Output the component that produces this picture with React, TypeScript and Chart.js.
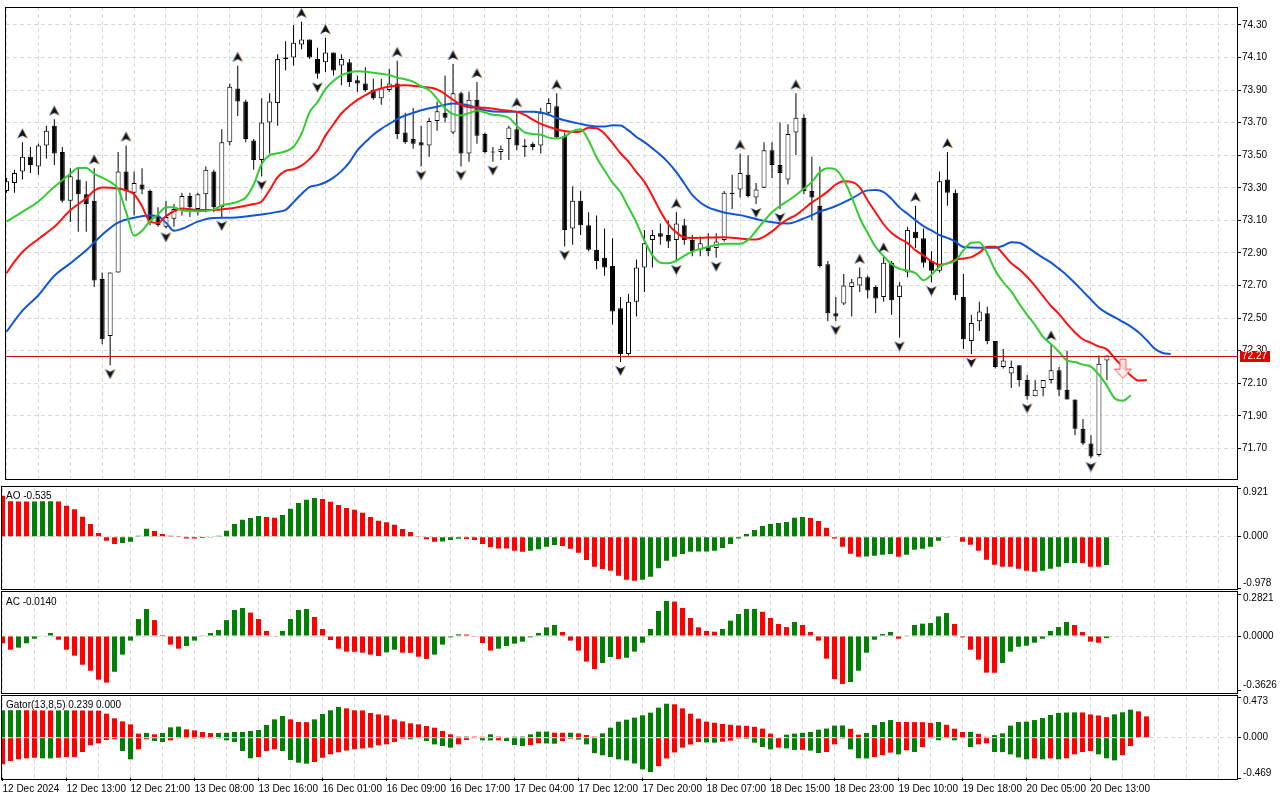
import { useEffect, useRef } from 'react';
import { Chart, registerables } from 'chart.js';

Chart.register(...registerables);

// ---------------- data ----------------
const timeLabels = [
  '12 Dec 2024', '12 Dec 13:00', '12 Dec 21:00', '13 Dec 08:00', '13 Dec 16:00', '16 Dec 01:00',
  '16 Dec 09:00', '16 Dec 17:00', '17 Dec 04:00', '17 Dec 12:00', '17 Dec 20:00', '18 Dec 07:00',
  '18 Dec 15:00', '18 Dec 23:00', '19 Dec 10:00', '19 Dec 18:00', '20 Dec 05:00', '20 Dec 13:00',
];

const open = [
  73.28, 73.33, 73.40, 73.49, 73.43, 73.56, 73.68, 73.52, 73.22, 73.35,
  73.26, 73.22, 72.74, 72.39, 72.78, 73.40, 73.27, 73.32, 73.28, 73.13,
  73.06, 73.11, 73.16, 73.25, 73.17, 73.26, 73.40, 73.18, 73.58, 73.91,
  73.83, 73.59, 73.47, 73.70, 73.82, 74.10, 74.10, 74.18, 74.21, 74.09,
  74.07, 74.13, 74.05, 74.07, 73.96, 73.94, 73.90, 73.85, 73.90, 73.94,
  73.64, 73.60, 73.58, 73.56, 73.71, 73.76, 73.64, 73.88, 73.51, 73.84,
  73.63, 73.52, 73.52, 73.60, 73.66, 73.55, 73.57, 73.56, 73.76, 73.80,
  73.62, 73.05, 73.22, 73.07, 72.92, 72.87, 72.82, 72.56, 72.28, 72.60,
  72.81, 72.98, 73.02, 73.01, 72.98, 73.07, 72.98, 72.92, 72.94, 72.93,
  72.98, 73.27, 73.29, 73.38, 73.24, 73.30, 73.53, 73.44, 73.35, 73.64,
  73.73, 73.28, 73.19, 72.83, 72.53, 72.59, 72.69, 72.70, 72.75, 72.69,
  72.63, 72.84, 72.63, 72.78, 73.03, 72.99, 72.85, 72.79, 73.35, 73.27,
  72.63, 72.36, 72.48, 72.53, 72.36, 72.20, 72.16, 72.21, 72.12, 72.02,
  72.07, 72.12, 72.18, 72.06, 72.00, 71.82, 71.73, 71.66, 72.24,
];
const high = [
  73.36, 73.41, 73.58, 73.55, 73.57, 73.68, 73.72, 73.55, 73.42, 73.42,
  73.34, 73.42, 72.78, 72.78, 73.52, 73.56, 73.40, 73.42, 73.29, 73.18,
  73.22, 73.20, 73.27, 73.27, 73.27, 73.43, 73.41, 73.66, 73.94, 74.05,
  73.84, 73.60, 73.85, 73.88, 74.12, 74.20, 74.30, 74.32, 74.21, 74.16,
  74.22, 74.13, 74.12, 74.09, 73.99, 74.04, 73.97, 73.97, 74.03, 74.08,
  73.76, 73.79, 73.68, 73.73, 73.83, 73.99, 74.06, 73.89, 73.89, 73.95,
  73.64, 73.55, 73.56, 73.68, 73.77, 73.60, 73.58, 73.79, 73.85, 73.88,
  73.64, 73.31, 73.28, 73.15, 73.13, 73.05, 72.99, 72.63, 72.65, 72.86,
  73.04, 73.04, 73.08, 73.10, 73.15, 73.11, 73.01, 73.00, 73.02, 73.02,
  73.28, 73.38, 73.51, 73.50, 73.33, 73.58, 73.58, 73.70, 73.69, 73.88,
  73.75, 73.49, 73.43, 72.85, 72.63, 72.77, 72.74, 72.81, 72.76, 72.70,
  72.88, 72.85, 72.72, 73.06, 73.19, 73.05, 72.91, 73.40, 73.52, 73.29,
  72.77, 72.52, 72.60, 72.57, 72.36, 72.31, 72.24, 72.21, 72.15, 72.12,
  72.12, 72.34, 72.20, 72.30, 72.00, 71.88, 71.78, 72.27, 72.27,
];
const low = [
  73.27, 73.27, 73.35, 73.39, 73.38, 73.48, 73.44, 73.21, 73.09, 73.03,
  73.03, 72.69, 72.34, 72.21, 72.78, 73.22, 73.13, 73.26, 73.07, 73.06,
  73.05, 73.06, 73.13, 73.12, 73.13, 73.15, 73.15, 73.12, 73.56, 73.74,
  73.58, 73.41, 73.37, 73.51, 73.68, 74.02, 74.05, 74.15, 74.09, 73.97,
  74.01, 73.99, 73.93, 73.92, 73.89, 73.89, 73.84, 73.81, 73.89, 73.60,
  73.57, 73.54, 73.43, 73.49, 73.65, 73.70, 73.63, 73.43, 73.46, 73.57,
  73.51, 73.46, 73.47, 73.47, 73.53, 73.49, 73.53, 73.51, 73.75, 73.60,
  72.94, 72.95, 73.01, 72.91, 72.80, 72.76, 72.46, 72.23, 72.27, 72.51,
  72.66, 72.81, 72.95, 72.93, 72.85, 72.95, 72.88, 72.88, 72.88, 72.87,
  72.97, 73.17, 73.24, 73.24, 73.20, 73.30, 73.36, 73.17, 73.32, 73.50,
  73.26, 73.10, 72.81, 72.48, 72.48, 72.58, 72.51, 72.66, 72.62, 72.53,
  72.60, 72.52, 72.38, 72.75, 72.93, 72.81, 72.72, 72.78, 73.19, 72.61,
  72.31, 72.28, 72.42, 72.34, 72.19, 72.19, 72.07, 72.08, 72.00, 72.02,
  72.02, 72.10, 72.02, 72.00, 71.78, 71.72, 71.64, 71.65, 72.12,
];
const close = [
  73.34, 73.39, 73.49, 73.44, 73.56, 73.65, 73.51, 73.22, 73.37, 73.26,
  73.20, 72.73, 72.37, 72.78, 73.40, 73.28, 73.33, 73.29, 73.09, 73.07,
  73.12, 73.17, 73.25, 73.18, 73.26, 73.41, 73.18, 73.58, 73.92, 73.83,
  73.60, 73.47, 73.70, 73.83, 74.09, 74.09, 74.19, 74.21, 74.10, 74.00,
  74.13, 74.02, 74.09, 73.95, 73.94, 73.90, 73.85, 73.91, 73.94, 73.63,
  73.58, 73.57, 73.56, 73.71, 73.77, 73.73, 73.88, 73.51, 73.84, 73.62,
  73.52, 73.52, 73.54, 73.67, 73.56, 73.56, 73.55, 73.76, 73.82, 73.61,
  73.04, 73.22, 73.07, 72.92, 72.85, 72.81, 72.54, 72.28, 72.60, 72.81,
  72.96, 73.01, 73.00, 72.97, 73.08, 72.98, 72.91, 72.96, 72.91, 72.97,
  73.27, 73.26, 73.39, 73.25, 73.29, 73.53, 73.44, 73.39, 73.63, 73.73,
  73.28, 73.24, 72.82, 72.53, 72.51, 72.70, 72.72, 72.75, 72.67, 72.62,
  72.84, 72.61, 72.70, 73.04, 72.99, 72.84, 72.79, 73.34, 73.27, 72.64,
  72.37, 72.47, 72.54, 72.36, 72.20, 72.24, 72.20, 72.12, 72.02, 72.06,
  72.12, 72.18, 72.06, 72.00, 71.82, 71.73, 71.65, 72.22, 72.27,
];

// Alligator lines: [bar index, price]
const jaw: [number, number][] = [
  [0, 72.416], [2, 72.546], [4, 72.64], [6, 72.76], [8, 72.836], [10, 72.916], [12, 73.012], [14, 73.086],
  [16, 73.116], [18, 73.13], [19, 73.126], [20, 73.086], [21, 73.036], [22, 73.048], [24, 73.092], [26, 73.114],
  [28, 73.116], [30, 73.124], [32, 73.136], [34, 73.152], [35, 73.164], [36, 73.212], [37, 73.262], [38, 73.304],
  [39, 73.316], [40, 73.334], [41, 73.362], [42, 73.402], [43, 73.456], [44, 73.53], [45, 73.58], [46, 73.626],
  [47, 73.662], [48, 73.692], [49, 73.722], [50, 73.744], [51, 73.76], [52, 73.776], [54, 73.798], [56, 73.818],
  [57, 73.814], [58, 73.806], [59, 73.79], [60, 73.776], [62, 73.766], [66, 73.766], [67, 73.762], [68, 73.748],
  [69, 73.728], [70, 73.714], [71, 73.702], [72, 73.692], [73, 73.682], [74, 73.676], [75, 73.676], [76, 73.684],
  [77, 73.682], [78, 73.652], [79, 73.612], [80, 73.58], [81, 73.542], [82, 73.502], [83, 73.454], [84, 73.396],
  [85, 73.326], [86, 73.256], [87, 73.21], [88, 73.18], [89, 73.162], [90, 73.148], [92, 73.132], [94, 73.108],
  [96, 73.088], [98, 73.08], [99, 73.092], [100, 73.112], [101, 73.132], [102, 73.154], [103, 73.17], [104, 73.188],
  [106, 73.234], [108, 73.284], [109, 73.286], [110, 73.274], [111, 73.232], [112, 73.178], [113, 73.14], [114, 73.10],
  [115, 73.064], [116, 73.038], [117, 73.01], [118, 72.992], [119, 72.97], [120, 72.936], [122, 72.932], [124, 72.932],
  [125, 72.944], [126, 72.966], [127, 72.962], [128, 72.936], [129, 72.902], [130, 72.87], [131, 72.84], [132, 72.802],
  [133, 72.762], [134, 72.714], [135, 72.664], [136, 72.614], [137, 72.564], [138, 72.53], [139, 72.504], [140, 72.476],
  [141, 72.448], [142, 72.412], [143, 72.364], [144, 72.312], [145, 72.286], [146, 72.28],
];
const teeth: [number, number][] = [
  [0, 72.776], [1, 72.846], [2, 72.906], [4, 72.986], [6, 73.06], [8, 73.162], [10, 73.236], [11, 73.282],
  [12, 73.302], [14, 73.296], [15, 73.284], [16, 73.26], [17, 73.186], [18, 73.092], [19, 73.084], [20, 73.126],
  [21, 73.156], [22, 73.172], [24, 73.164], [26, 73.164], [28, 73.172], [30, 73.19], [31, 73.20], [32, 73.216],
  [33, 73.286], [34, 73.366], [35, 73.404], [36, 73.414], [37, 73.436], [38, 73.476], [39, 73.53], [40, 73.62],
  [41, 73.69], [42, 73.756], [43, 73.802], [44, 73.84], [45, 73.868], [46, 73.894], [47, 73.91], [48, 73.922],
  [50, 73.93], [52, 73.92], [54, 73.904], [56, 73.84], [57, 73.81], [58, 73.794], [60, 73.792], [62, 73.778],
  [64, 73.766], [65, 73.748], [66, 73.718], [67, 73.692], [68, 73.674], [69, 73.658], [70, 73.648], [71, 73.642],
  [72, 73.646], [73, 73.668], [74, 73.666], [75, 73.632], [76, 73.574], [77, 73.512], [78, 73.46], [79, 73.396],
  [80, 73.336], [81, 73.25], [82, 73.156], [83, 73.076], [84, 73.026], [85, 72.996], [86, 72.992], [90, 72.996],
  [92, 72.988], [94, 72.982], [95, 73.0], [96, 73.032], [97, 73.074], [98, 73.108], [99, 73.132], [100, 73.17],
  [101, 73.21], [102, 73.242], [103, 73.278], [104, 73.32], [105, 73.34], [106, 73.336], [107, 73.302], [108, 73.222],
  [109, 73.148], [110, 73.076], [111, 73.022], [112, 72.988], [113, 72.96], [114, 72.916], [115, 72.884], [116, 72.848],
  [117, 72.828], [118, 72.836], [119, 72.858], [120, 72.866], [121, 72.874], [122, 72.902], [123, 72.938], [124, 72.938],
  [125, 72.892], [126, 72.836], [127, 72.80], [128, 72.752], [129, 72.696], [130, 72.634], [131, 72.574], [132, 72.524],
  [133, 72.464], [134, 72.412], [135, 72.37], [136, 72.348], [137, 72.326], [138, 72.308], [139, 72.252], [140, 72.20],
  [141, 72.148], [142, 72.116], [143, 72.12],
];
const lips: [number, number][] = [
  [0, 73.092], [2, 73.152], [4, 73.216], [6, 73.306], [7, 73.346], [8, 73.386], [9, 73.422], [10, 73.422],
  [11, 73.386], [12, 73.362], [13, 73.336], [14, 73.292], [15, 73.152], [16, 73.006], [17, 73.036], [18, 73.096],
  [19, 73.136], [20, 73.18], [21, 73.18], [22, 73.16], [24, 73.156], [26, 73.166], [27, 73.192], [28, 73.202],
  [29, 73.214], [30, 73.24], [31, 73.32], [32, 73.446], [33, 73.50], [34, 73.512], [35, 73.524], [36, 73.552],
  [37, 73.632], [38, 73.762], [39, 73.826], [40, 73.906], [41, 73.956], [42, 73.992], [43, 74.008], [44, 74.016],
  [46, 74.006], [48, 73.992], [49, 73.976], [50, 73.966], [51, 73.952], [52, 73.922], [53, 73.90], [54, 73.846],
  [55, 73.788], [56, 73.752], [57, 73.744], [58, 73.758], [59, 73.774], [60, 73.762], [61, 73.748], [62, 73.744],
  [63, 73.73], [64, 73.68], [65, 73.64], [66, 73.63], [67, 73.626], [68, 73.608], [69, 73.602], [70, 73.614],
  [71, 73.648], [72, 73.66], [73, 73.59], [74, 73.486], [75, 73.406], [76, 73.332], [77, 73.272], [78, 73.18],
  [79, 73.086], [80, 72.976], [81, 72.886], [82, 72.84], [83, 72.836], [84, 72.852], [85, 72.882], [86, 72.908],
  [87, 72.924], [88, 72.938], [89, 72.948], [90, 72.956], [92, 72.956], [93, 72.98], [94, 73.036], [95, 73.096],
  [96, 73.15], [97, 73.188], [98, 73.22], [99, 73.256], [100, 73.294], [101, 73.336], [102, 73.396], [103, 73.42],
  [104, 73.412], [105, 73.348], [106, 73.242], [107, 73.116], [108, 73.022], [109, 72.936], [110, 72.88], [111, 72.83],
  [112, 72.802], [113, 72.792], [114, 72.776], [115, 72.732], [116, 72.766], [117, 72.816], [118, 72.836], [119, 72.852],
  [120, 72.916], [121, 72.962], [122, 72.966], [123, 72.896], [124, 72.792], [125, 72.72], [126, 72.664], [127, 72.588],
  [128, 72.52], [129, 72.456], [130, 72.384], [131, 72.34], [132, 72.292], [133, 72.24], [134, 72.23], [135, 72.214],
  [136, 72.202], [137, 72.152], [138, 72.084], [139, 72.006], [140, 71.992], [141, 72.026],
];

const fractalUp = [2, 6, 11, 15, 29, 37, 40, 49, 56, 59, 64, 69, 84, 92, 99, 107, 110, 114, 118, 131];
const fractalDown = [13, 20, 27, 32, 39, 52, 57, 61, 70, 77, 84, 89, 94, 97, 104, 112, 116, 121, 128, 136];
const sellSignal: [number, number] = [140, 72.19];

const priceTicks = [71.7, 71.9, 72.1, 72.3, 72.5, 72.7, 72.9, 73.1, 73.3, 73.5, 73.7, 73.9, 74.1, 74.3];

const aoValues = [
  0.775, 0.670, 0.668, 0.666, 0.667, 0.669, 0.671, 0.668, 0.586, 0.517,
  0.378, 0.239, 0.069, -0.076, -0.139, -0.120, -0.095, 0.019, 0.151, 0.107,
  0.050, 0.019, 0.002, -0.032, -0.034, -0.025, -0.013, 0.019, 0.113, 0.239,
  0.321, 0.353, 0.391, 0.372, 0.359, 0.410, 0.529, 0.636, 0.699, 0.731,
  0.712, 0.662, 0.599, 0.542, 0.510, 0.454, 0.372, 0.303, 0.271, 0.227,
  0.145, 0.088, 0.013, -0.050, -0.095, -0.093, -0.063, -0.038, -0.044, -0.063,
  -0.139, -0.202, -0.221, -0.223, -0.265, -0.284, -0.265, -0.239, -0.189, -0.158,
  -0.176, -0.227, -0.302, -0.441, -0.567, -0.611, -0.643, -0.737, -0.813, -0.832,
  -0.813, -0.756, -0.599, -0.454, -0.378, -0.328, -0.284, -0.282, -0.280, -0.265,
  -0.214, -0.139, -0.032, 0.050, 0.126, 0.202, 0.239, 0.258, 0.277, 0.359,
  0.372, 0.353, 0.296, 0.170, -0.032, -0.189, -0.321, -0.378, -0.376, -0.359,
  -0.340, -0.328, -0.378, -0.340, -0.246, -0.227, -0.189, -0.076, -0.005, -0.012,
  -0.095, -0.151, -0.265, -0.435, -0.529, -0.567, -0.570, -0.605, -0.643, -0.662,
  -0.643, -0.605, -0.567, -0.498, -0.496, -0.498, -0.567, -0.570, -0.535,
];
const acValues = [
  -0.049, -0.092, -0.078, -0.049, -0.018, 0.004, 0.020, -0.025, -0.092, -0.132,
  -0.193, -0.233, -0.293, -0.313, -0.240, -0.125, -0.031, 0.114, 0.181, 0.107,
  0.007, -0.058, -0.085, -0.067, -0.031, 0.002, 0.020, 0.040, 0.107, 0.175,
  0.188, 0.157, 0.114, 0.034, -0.002, 0.034, 0.114, 0.175, 0.181, 0.128,
  0.047, -0.027, -0.085, -0.105, -0.106, -0.112, -0.125, -0.134, -0.110, -0.092,
  -0.112, -0.113, -0.139, -0.154, -0.125, -0.058, -0.009, 0.011, 0.010, -0.002,
  -0.047, -0.098, -0.085, -0.067, -0.051, -0.038, -0.009, 0.020, 0.058, 0.074,
  0.027, -0.031, -0.098, -0.172, -0.222, -0.181, -0.141, -0.154, -0.146, -0.105,
  -0.045, 0.047, 0.168, 0.235, 0.231, 0.188, 0.121, 0.058, 0.034, 0.029,
  0.047, 0.103, 0.148, 0.181, 0.182, 0.163, 0.121, 0.081, 0.060, 0.094,
  0.074, 0.027, -0.031, -0.152, -0.289, -0.322, -0.309, -0.233, -0.112, -0.025,
  0.013, 0.027, -0.018, 0.002, 0.074, 0.083, 0.087, 0.132, 0.154, 0.081,
  -0.009, -0.092, -0.159, -0.246, -0.247, -0.181, -0.105, -0.072, -0.065, -0.045,
  -0.018, 0.034, 0.060, 0.094, 0.074, 0.027, -0.038, -0.045, -0.014,
];
const gatorUpper = [
  0.318, 0.319, 0.320, 0.319, 0.318, 0.317, 0.316, 0.317, 0.318, 0.317,
  0.316, 0.315, 0.314, 0.279, 0.225, 0.190, 0.155, 0.047, 0.054, 0.039,
  0.054, 0.120, 0.128, 0.097, 0.085, 0.066, 0.054, 0.055, 0.056, 0.066,
  0.067, 0.078, 0.089, 0.147, 0.213, 0.252, 0.213, 0.182, 0.181, 0.213,
  0.275, 0.318, 0.357, 0.341, 0.318, 0.317, 0.287, 0.271, 0.259, 0.213,
  0.190, 0.167, 0.155, 0.136, 0.116, 0.078, 0.039, 0.012, 0.013, 0.012,
  0.011, 0.039, 0.012, 0.005, 0.012, 0.013, 0.039, 0.070, 0.071, 0.058,
  0.057, 0.058, 0.050, 0.031, 0.012, 0.050, 0.116, 0.186, 0.209, 0.233,
  0.260, 0.291, 0.349, 0.395, 0.388, 0.341, 0.279, 0.221, 0.186, 0.174,
  0.160, 0.150, 0.142, 0.138, 0.126, 0.105, 0.047, 0.006, 0.035, 0.047,
  0.056, 0.066, 0.093, 0.106, 0.140, 0.142, 0.103, 0.035, 0.054, 0.147,
  0.182, 0.205, 0.183, 0.182, 0.181, 0.180, 0.172, 0.182, 0.150, 0.104,
  0.066, 0.068, 0.045, 0.010, 0.030, 0.050, 0.140, 0.182, 0.186, 0.205,
  0.229, 0.264, 0.287, 0.292, 0.294, 0.293, 0.270, 0.258, 0.239, 0.271,
  0.295, 0.326, 0.306, 0.248,
];
const gatorLower = [
  -0.310, -0.271, -0.252, -0.240, -0.233, -0.240, -0.241, -0.233, -0.225, -0.224,
  -0.167, -0.089, -0.066, -0.027, -0.019, -0.155, -0.252, -0.136, -0.019, -0.039,
  -0.050, -0.031, -0.008, -0.009, -0.010, -0.009, -0.008, -0.009, -0.031, -0.050,
  -0.155, -0.240, -0.225, -0.155, -0.136, -0.155, -0.260, -0.291, -0.302, -0.283,
  -0.233, -0.194, -0.170, -0.150, -0.135, -0.125, -0.116, -0.089, -0.078, -0.050,
  -0.012, -0.019, -0.008, -0.039, -0.078, -0.097, -0.116, -0.078, -0.027, -0.008,
  -0.031, -0.032, -0.031, -0.039, -0.085, -0.097, -0.085, -0.066, -0.067, -0.070,
  -0.040, -0.012, -0.023, -0.078, -0.180, -0.205, -0.225, -0.252, -0.265, -0.300,
  -0.368, -0.400, -0.332, -0.242, -0.172, -0.116, -0.080, -0.050, -0.055, -0.058,
  -0.047, -0.035, -0.010, -0.012, -0.058, -0.109, -0.136, -0.116, -0.124, -0.143,
  -0.142, -0.150, -0.178, -0.167, -0.078, -0.010, -0.136, -0.240, -0.242, -0.225,
  -0.202, -0.174, -0.194, -0.147, -0.167, -0.109, -0.008, -0.030, -0.003, -0.031,
  -0.003, -0.109, -0.078, -0.066, -0.167, -0.168, -0.194, -0.230, -0.252, -0.240,
  -0.252, -0.241, -0.252, -0.240, -0.194, -0.167, -0.155, -0.194, -0.240, -0.264,
  -0.202, -0.097,
];
const aoTicks = [-0.978, 0, 0.921];
const acTicks = [-0.3626, 0, 0.2821];
const gatorTicks = [-0.469, 0, 0.473];

// ---------------- styling ----------------
const GREEN = '#008000';
const RED = '#ff0000';
const GRID = '#d9d9d9';
const FONT = { family: 'Liberation Sans', size: 10 };
const CSS_FONT = '10px "Liberation Sans"';

// bar k sits at 2.5 + 8k px, chart area from x=2 to x=1237
const X_MIN = -0.0625;
const X_MAX = X_MIN + 1235 / 8;
const gridSteps = Array.from({ length: 39 }, (_, i) => i * 4);

const hasTimeLabel = (v: number) => v % 8 === 0 && v / 8 < timeLabels.length;

function trendColors(vals: number[], first: string, magnitude = false) {
  let cur = first;
  return vals.map((v, i) => {
    if (i > 0) {
      const a = magnitude ? Math.abs(v) : v;
      const b = magnitude ? Math.abs(vals[i - 1]) : vals[i - 1];
      if (a > b) cur = GREEN;
      else if (a < b) cur = RED;
    }
    return cur;
  });
}

function xScale(withLabels: boolean) {
  return {
    type: 'linear',
    min: X_MIN,
    max: X_MAX,
    offset: false,
    afterBuildTicks: (axis: any) => { axis.ticks = gridSteps.map((v) => ({ value: v })); },
    afterFit: (axis: any) => { axis.height = withLabels ? 22 : 0; },
    grid: {
      color: GRID,
      offset: false,
      drawTicks: withLabels,
      tickLength: 3,
      tickColor: (c: any) => (c.tick && hasTimeLabel(c.tick.value) ? '#000' : 'rgba(0,0,0,0)'),
    },
    border: { display: false, dash: [4, 3] },
    ticks: {
      display: withLabels,
      autoSkip: false,
      maxRotation: 0,
      minRotation: 0,
      align: 'start',
      padding: 2,
      color: '#000',
      font: FONT,
      callback: (v: number) => (hasTimeLabel(v) ? timeLabels[v / 8] : ''),
    },
  };
}

function decor(d: any) {
  return {
    id: 'decor',
    afterDraw(chart: any) {
      const { ctx, chartArea: a } = chart;
      const y = chart.scales.y;
      ctx.save();
      if (d.price) {
        const py = Math.round(y.getPixelForValue(d.price.value)) + 0.5;
        ctx.strokeStyle = '#c01010';
        ctx.lineWidth = 1;
        ctx.beginPath();
        ctx.moveTo(a.left, py);
        ctx.lineTo(a.right, py);
        ctx.stroke();
      }
      const l = Math.round(a.left) - 0.5;
      const r = Math.round(a.right) + 0.5;
      const t = Math.round(a.top - d.frame[0]) - 0.5;
      const b = Math.round(a.bottom + d.frame[1]) + 0.5;
      ctx.strokeStyle = '#000';
      ctx.lineWidth = 1;
      ctx.strokeRect(l, t, r - l, b - t);
      ctx.font = CSS_FONT;
      ctx.textBaseline = 'middle';
      ctx.textAlign = 'left';
      ctx.fillStyle = '#000';
      if (d.title) ctx.fillText(d.title, a.left + 4, a.top + 8);
      if (d.axis) {
        d.axis.forEach((tk: any) => {
          let ty = y.getPixelForValue(tk.value);
          if (tk.value === y.max) ty = a.top + 4;
          else if (tk.value === y.min) ty = a.bottom - 5;
          ctx.fillText(tk.text, a.right + 6, ty);
        });
      }
      if (d.price) {
        const py = Math.round(y.getPixelForValue(d.price.value));
        ctx.fillStyle = '#e00000';
        ctx.fillRect(a.right + 3, py - 5, 30, 11);
        ctx.fillStyle = '#fff';
        ctx.fillText(d.price.text, a.right + 5, py + 0.5);
      }
      ctx.restore();
    },
  };
}

const common = {
  animation: false,
  responsive: false,
  devicePixelRatio: 1,
  events: [],
  plugins: { legend: { display: false }, tooltip: { enabled: false } },
};

function makeFractal(up: boolean) {
  const c = document.createElement('canvas');
  c.width = 13;
  c.height = 36;
  const g = c.getContext('2d') as CanvasRenderingContext2D;
  g.translate(6.5, up ? 9.5 : 26.5);
  if (!up) g.scale(1, -1);
  g.beginPath();
  g.moveTo(0, -5);
  g.lineTo(5, 4.5);
  g.lineTo(0, 2);
  g.lineTo(-5, 4.5);
  g.closePath();
  g.fillStyle = '#111';
  g.fill();
  g.lineWidth = 1;
  g.strokeStyle = 'rgba(70,120,210,0.75)';
  g.beginPath(); g.moveTo(0, -5); g.lineTo(-5, 4.5); g.stroke();
  g.strokeStyle = 'rgba(220,140,50,0.6)';
  g.beginPath(); g.moveTo(0, -5); g.lineTo(5, 4.5); g.stroke();
  return c;
}

function makeSellArrow() {
  const c = document.createElement('canvas');
  c.width = 20;
  c.height = 22;
  const g = c.getContext('2d') as CanvasRenderingContext2D;
  g.beginPath();
  g.moveTo(7, 1.5); g.lineTo(13, 1.5); g.lineTo(13, 11.5); g.lineTo(18.5, 11.5);
  g.lineTo(10, 20.5); g.lineTo(1.5, 11.5); g.lineTo(7, 11.5);
  g.closePath();
  g.fillStyle = 'rgba(255,235,235,0.85)';
  g.fill();
  g.strokeStyle = '#ff4d4d';
  g.lineWidth = 1;
  g.stroke();
  return c;
}

function lineDs(pts: [number, number][], color: string) {
  return {
    type: 'line',
    data: pts.map(([x, y]) => ({ x, y })),
    borderColor: color,
    borderWidth: 2,
    pointRadius: 0,
    cubicInterpolationMode: 'monotone',
  };
}

function mainConfig() {
  const idx = close.map((_, i) => i);
  const body = (i: number) => {
    let lo = Math.min(open[i], close[i]);
    let hi = Math.max(open[i], close[i]);
    if (hi - lo < 0.006) { const m = (hi + lo) / 2; lo = m - 0.003; hi = m + 0.003; }
    return [lo, hi];
  };
  return {
    type: 'bar',
    data: {
      datasets: [
        { type: 'line', data: fractalUp.map((i) => ({ x: i, y: high[i] })), showLine: false, pointStyle: makeFractal(true), pointRadius: 5 },
        { type: 'line', data: fractalDown.map((i) => ({ x: i, y: low[i] })), showLine: false, pointStyle: makeFractal(false), pointRadius: 5 },
        { type: 'line', data: [{ x: sellSignal[0], y: sellSignal[1] }], showLine: false, pointStyle: makeSellArrow(), pointRadius: 5 },
        lineDs(lips, '#33cc33'),
        lineDs(teeth, '#ff1010'),
        lineDs(jaw, '#1155d6'),
        {
          data: idx.map((i) => ({ x: i, y: body(i) })),
          backgroundColor: idx.map((i) => (close[i] >= open[i] ? '#ffffff' : '#000000')),
          borderColor: '#000',
          borderWidth: 1,
          borderSkipped: false,
          barThickness: 5,
          grouped: false,
          inflateAmount: 0,
        },
        {
          data: idx.map((i) => ({ x: i, y: [low[i], high[i]] })),
          backgroundColor: '#000',
          borderWidth: 0,
          barThickness: 1,
          grouped: false,
          inflateAmount: 0,
        },
      ],
    },
    plugins: [decor({ frame: [-1, -1], price: { value: close[close.length - 1], text: close[close.length - 1].toFixed(2) } })],
    options: {
      ...common,
      layout: { padding: { left: 2, right: 0, top: 1, bottom: 2 } },
      scales: {
        x: xScale(false),
        y: {
          position: 'right',
          min: 74.30 - (485 - 19.3) / 166.67,
          max: 74.30 + (19.3 - 1) / 166.67,
          afterBuildTicks: (axis: any) => { axis.ticks = priceTicks.map((v) => ({ value: v })); },
          afterFit: (axis: any) => { axis.width = 43; },
          grid: { color: GRID, drawTicks: true, tickLength: 4, tickColor: '#000' },
          border: { display: false, dash: [4, 3] },
          ticks: { color: '#000', font: FONT, padding: 1, callback: (v: number) => Number(v).toFixed(2) },
        },
      },
    },
  };
}

function histDs(values: number[], first: string, magnitude = false) {
  return {
    data: values.map((v, i) => ({ x: i, y: v })),
    backgroundColor: trendColors(values, first, magnitude),
    borderWidth: 0,
    barThickness: 5,
    grouped: false,
    inflateAmount: 0,
  };
}

function panelConfig(p: any) {
  return {
    type: 'bar',
    data: { datasets: p.datasets },
    plugins: [decor({ frame: p.frame, title: p.title, axis: p.ticks.map((v: number) => ({ value: v, text: v.toFixed(p.decimals) })) })],
    options: {
      ...common,
      layout: { padding: { left: 2, right: 0, top: p.padTop, bottom: p.padBottom } },
      scales: {
        x: xScale(p.withTime),
        y: {
          position: 'right',
          min: p.ticks[0],
          max: p.ticks[2],
          afterBuildTicks: (axis: any) => { axis.ticks = p.ticks.map((v: number) => ({ value: v })); },
          afterFit: (axis: any) => { axis.width = 43; },
          grid: {
            color: (c: any) => (c.tick && c.tick.value === 0 ? GRID : 'rgba(0,0,0,0)'),
            drawTicks: true,
            tickLength: 4,
            tickColor: '#000',
          },
          border: { display: false, dash: [4, 3] },
          ticks: { display: false },
        },
      },
    },
  };
}

export default function App() {
  const mainRef = useRef<HTMLCanvasElement>(null);
  const aoRef = useRef<HTMLCanvasElement>(null);
  const acRef = useRef<HTMLCanvasElement>(null);
  const gatorRef = useRef<HTMLCanvasElement>(null);

  useEffect(() => {
    const charts = [
      new Chart(mainRef.current as any, mainConfig() as any),
      new Chart(aoRef.current as any, panelConfig({
        datasets: [histDs(aoValues, RED)],
        ticks: aoTicks, decimals: 3, title: 'AO -0.535',
        frame: [1, 1], padTop: 2, padBottom: 2.6, withTime: false,
      }) as any),
      new Chart(acRef.current as any, panelConfig({
        datasets: [histDs(acValues, RED)],
        ticks: acTicks, decimals: 4, title: 'AC -0.0140',
        frame: [2, 3], padTop: 4, padBottom: 4, withTime: false,
      }) as any),
      new Chart(gatorRef.current as any, panelConfig({
        datasets: [histDs(gatorUpper, GREEN), histDs(gatorLower, RED, true)],
        ticks: gatorTicks, decimals: 3, title: 'Gator(13,8,5) 0.239 0.000',
        frame: [1, 1], padTop: 3, padBottom: 0, withTime: true,
      }) as any),
    ];
    return () => charts.forEach((c) => c.destroy());
  }, []);

  const abs = (top: number) => ({ position: 'absolute' as const, left: 0, top, display: 'block' });
  return (
    <div style={{ position: 'fixed', left: 0, top: 0, width: 1280, height: 800, background: '#fff' }}>
      <canvas ref={mainRef} width={1280} height={487} style={abs(0)} />
      <canvas ref={aoRef} width={1280} height={105} style={abs(486)} />
      <canvas ref={acRef} width={1280} height={104} style={abs(590)} />
      <canvas ref={gatorRef} width={1280} height={106} style={abs(694)} />
    </div>
  );
}
